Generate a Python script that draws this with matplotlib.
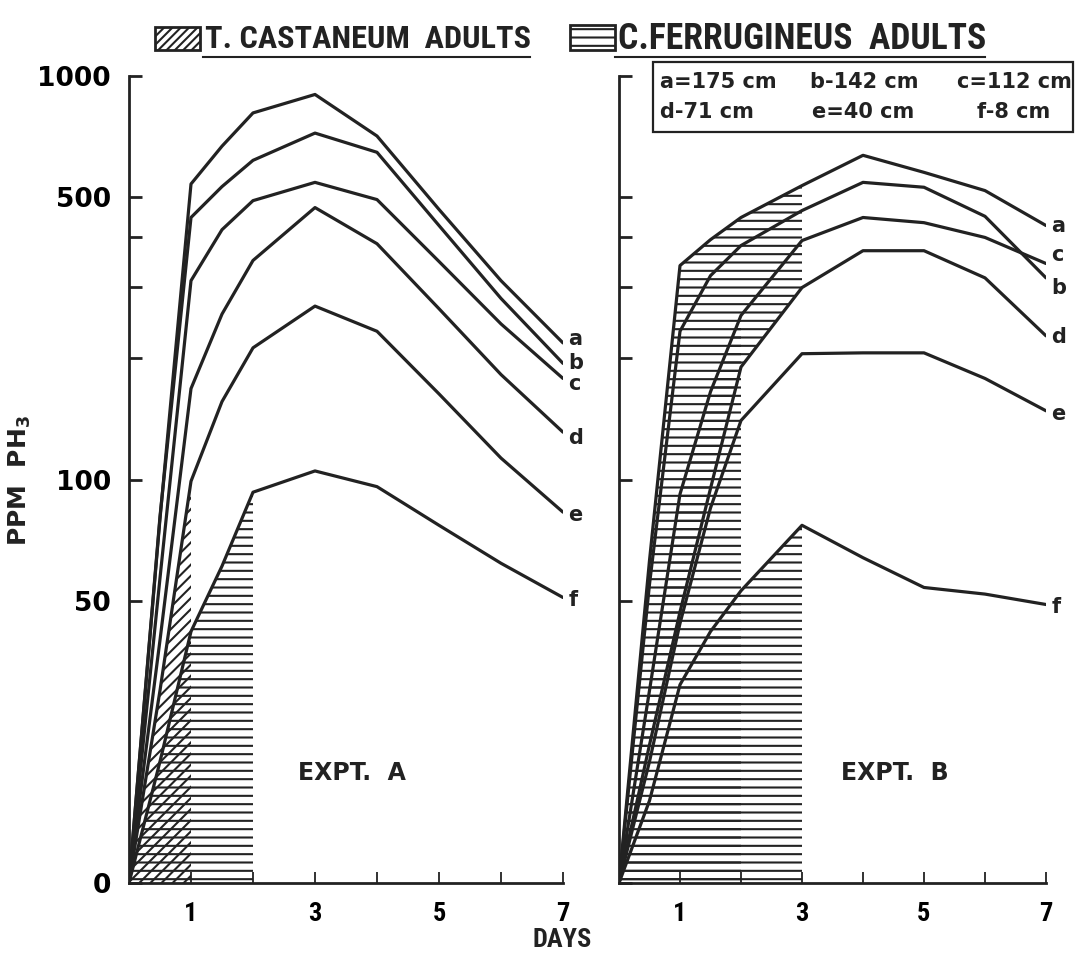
import numpy as np
import matplotlib
matplotlib.use('Agg')
import matplotlib.pyplot as plt
from matplotlib import font_manager
from matplotlib.patches import Rectangle
from matplotlib.lines import Line2D
from matplotlib.ticker import FixedLocator, FixedFormatter, NullLocator

# ---- data (ppm PH3 vs days) ----
days = np.array([0, 0.5, 1, 1.5, 2, 3, 4, 5, 6, 7])
curve_names = ['a', 'b', 'c', 'd', 'e', 'f']

# Expt. A
a_A = [0, 80, 540, 670, 810, 900, 710, 467, 311, 218]
b_A = [0, 81, 446, 532, 618, 722, 647, 426, 281, 194]
c_A = [0, 57, 311, 416, 491, 545, 494, 347, 243, 178]
d_A = [0, 40, 168, 257, 349, 472, 384, 265, 182, 131]
e_A = [0, 30, 99, 156, 212, 269, 233, 163, 113, 83]
f_A = [0, 20, 42, 61, 93, 105, 96, 77, 62, 51]

# Expt. B
a_B = [0, 63, 339, 393, 446, 535, 636, 577, 520, 426]
b_B = [0, 55, 233, 320, 380, 464, 545, 530, 449, 316]
c_B = [0, 30, 92, 165, 255, 391, 446, 433, 398, 343]
d_B = [0, 22, 47, 95, 190, 299, 369, 369, 316, 227]
e_B = [0, 20, 44, 85, 140, 205, 206, 206, 178, 148]
f_B = [0, 16, 31, 42, 53, 77, 64, 54, 52, 49]

legend_texts = ['a=175 cm', 'b-142 cm', 'c=112 cm', 'd-71 cm', 'e=40 cm', 'f-8 cm']

y_ticks = [0, 50, 100, 200, 300, 400, 500, 1000]
y_ticklabels = ['0', '50', '100', '', '', '', '500', '1000']
x_ticks = [1, 2, 3, 4, 5, 6, 7]
x_ticklabels = ['1', '', '3', '', '5', '', '7']

FLOOR = 10   # the "0" of the broken log axis
INK = '#222222'

avail = {f.name for f in font_manager.fontManager.ttflist}
narrow_font = 'Liberation Sans'
for cand in ['Liberation Sans Narrow', 'Roboto Condensed', 'Open Sans Condensed',
             'Liberation Sans']:
    if cand in avail:
        narrow_font = cand
        break
NARROW = [narrow_font, 'DejaVu Sans']

plt.rcParams['font.family'] = ['DejaVu Sans']
plt.rcParams['font.weight'] = 'bold'
plt.rcParams['hatch.linewidth'] = 1.5
plt.rcParams['hatch.color'] = INK

W, H = 1080, 957
fig = plt.figure(figsize=(W / 100, H / 100), dpi=100)


def fx(px):
    return px / W


def fy(py):
    return 1 - py / H


def box(x0, y0, x1, y1):
    return [fx(x0), fy(y1), (x1 - x0) / W, (y1 - y0) / H]


axA = fig.add_axes(box(129, 76, 563, 883))
axB = fig.add_axes(box(619, 76, 1046, 883))

ytick_pos = [max(t, FLOOR) for t in y_ticks]

for ax in (axA, axB):
    ax.set_yscale('log')
    ax.set_ylim(FLOOR, 1000)
    ax.set_xlim(0, 7)
    for s in ('top', 'right'):
        ax.spines[s].set_visible(False)
    for s in ('left', 'bottom'):
        ax.spines[s].set_linewidth(2)
        ax.spines[s].set_color(INK)
    ax.yaxis.set_major_locator(FixedLocator(ytick_pos))
    ax.yaxis.set_minor_locator(NullLocator())
    ax.xaxis.set_major_locator(FixedLocator(x_ticks))
    ax.xaxis.set_major_formatter(FixedFormatter(x_ticklabels))
    ax.tick_params(axis='y', direction='in', length=9, width=2, color=INK)
    ax.tick_params(axis='x', direction='in', length=8, width=1.3, color=INK,
                   labelsize=19, pad=14)
    for lab in ax.get_xticklabels():
        lab.set_family(NARROW)
        lab.set_fontweight('bold')
    ax.patch.set_alpha(0)

axA.yaxis.set_major_formatter(FixedFormatter(y_ticklabels))
axA.tick_params(axis='y', labelsize=19, pad=13)
axB.yaxis.set_major_formatter(FixedFormatter([''] * len(y_ticks)))


def clip(v):
    return np.maximum(np.asarray(v, dtype=float), FLOOR)


def hatch_fill(ax, lo, hi, upto, pattern):
    m = days <= upto
    ax.fill_between(days[m], clip(lo)[m], clip(hi)[m], facecolor='none',
                    edgecolor=INK, hatch=pattern, linewidth=0)


zeros = [0] * len(days)

# T. castaneum (diagonal) and C. ferrugineus (horizontal) exposure areas
hatch_fill(axA, zeros, e_A, 1, '///')
hatch_fill(axA, zeros, f_A, 2, '--')

hatch_fill(axB, b_B, a_B, 3, '--')
hatch_fill(axB, zeros, c_B, 2, '--')
hatch_fill(axB, d_B, b_B, 3, '--')
hatch_fill(axB, zeros, f_B, 3, '--')

label_dy_A = [3, 0, -4, -4, -2, -2]
label_dy_B = [0, -7, 6, -1, -2, -2]

for ax, curves, dys in ((axA, [a_A, b_A, c_A, d_A, e_A, f_A], label_dy_A),
                        (axB, [a_B, b_B, c_B, d_B, e_B, f_B], label_dy_B)):
    for name, vals, dy in zip(curve_names, curves, dys):
        v = clip(vals)
        ax.plot(days, v, color=INK, lw=2.3, solid_joinstyle='round',
                solid_capstyle='round')
        ax.annotate(name, (days[-1], v[-1]), xytext=(4, dy),
                    textcoords='offset points', ha='left', va='center',
                    fontsize=15, fontweight='bold', color=INK,
                    annotation_clip=False)

axA.text(3.6, 18.7, 'EXPT.  A', ha='center', va='center', fontsize=17,
         fontweight='bold', color=INK)
axB.text(4.52, 18.7, 'EXPT.  B', ha='center', va='center', fontsize=17,
         fontweight='bold', color=INK)

fig.text(fx(562), fy(940), 'DAYS', ha='center', va='center', fontsize=19,
         fontweight='bold', family=NARROW, color=INK)
fig.text(fx(20), fy(480), r'PPM  PH$_\mathbf{3}$', ha='center', va='center',
         rotation=90, fontsize=18, fontweight='bold', color=INK)

# header legend
fig.add_artist(Rectangle((fx(155), fy(50)), (200 - 155) / W, 23 / H,
                         transform=fig.transFigure, facecolor='white',
                         edgecolor=INK, hatch='////', lw=2))
t1 = fig.text(fx(205), fy(39), 'T. CASTANEUM  ADULTS', ha='left', va='center',
              fontsize=22, fontweight='bold', family=NARROW, color=INK)
fig.add_artist(Line2D([fx(203), fx(530)], [fy(57), fy(57)], color=INK, lw=1.5))

fig.add_artist(Rectangle((fx(570), fy(50)), (615 - 570) / W, 25 / H,
                         transform=fig.transFigure, facecolor='white',
                         edgecolor=INK, hatch='--', lw=2))
t2 = fig.text(fx(618), fy(39), 'C.FERRUGINEUS  ADULTS', ha='left', va='center',
              fontsize=22, fontweight='bold', family=NARROW, color=INK)
fig.add_artist(Line2D([fx(615), fx(985)], [fy(57), fy(57)], color=INK, lw=1.5))

# fit header texts to the widths they take in the original
fig.canvas.draw()
rend = fig.canvas.get_renderer()
for t, target in ((t1, 325), (t2, 367)):
    w = t.get_window_extent(rend).width
    t.set_fontsize(t.get_fontsize() * target / w)

# height key box
fig.add_artist(Rectangle((fx(653), fy(132)), (1073 - 653) / W, 70 / H,
                         transform=fig.transFigure, facecolor='white',
                         edgecolor=INK, lw=1.6))
key_x = [660, 810, 957, 660, 812, 977]
key_y = [82, 82, 82, 112, 112, 112]
for t, kx, ky in zip(legend_texts, key_x, key_y):
    fig.text(fx(kx), fy(ky), t, ha='left', va='center', fontsize=15,
             fontweight='bold', color=INK)

fig.savefig('out.png', dpi=100)
